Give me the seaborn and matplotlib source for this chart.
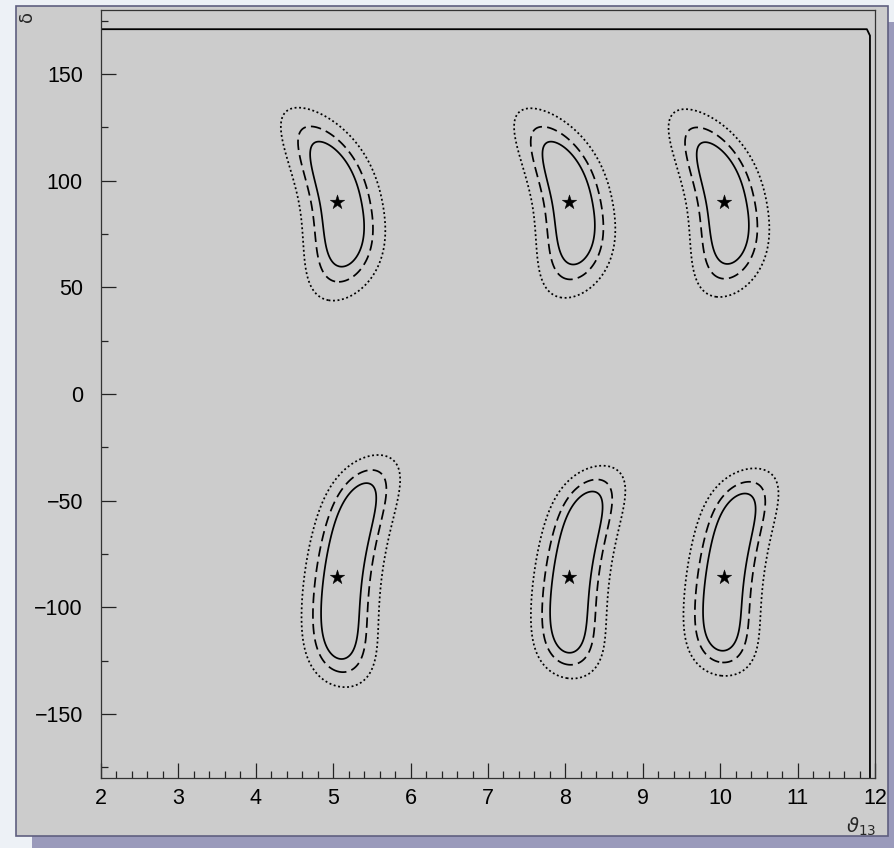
import numpy as np
import pandas as pd
import matplotlib
matplotlib.use("Agg")
import matplotlib.pyplot as plt
import seaborn as sns
from matplotlib.patches import Rectangle

# Simulated true points (theta13 in degrees, delta in degrees)
theta_best = [5.05, 8.05, 10.05, 5.05, 8.05, 10.05]
delta_best = [90, 90, 90, -86, -86, -86]

# Allowed-region shape around each true point
region_theta0 = [5.10, 8.09, 10.08, 5.137, 8.09, 10.07]
region_delta0 = [89.0, 89.5, 89.5, -83.0, -83.5, -83.5]
region_theta_width = [0.178, 0.172, 0.172, 0.165, 0.162, 0.165]
region_delta_width = [22.6, 22.2, 22.0, 34.9, 32.0, 31.2]
region_tilt = [-0.005, -0.005, -0.005, 0.0039, 0.0039, 0.0039]
region_bend = [-0.00016, -0.00016, -0.00016, 0.0000777, 0.0000777, 0.0000777]
region_power = [3.2, 3.2, 3.2, 5, 5, 5]

# Delta chi^2 levels: 68%, 90%, 99% C.L. (2 d.o.f.)
chi2_levels = [2.30, 4.61, 9.21]

# Outer edge of the scanned region
edge_delta = 171.0
edge_theta = 11.935

x_ticks = list(range(2, 13))
y_ticks = [-150, -100, -50, 0, 50, 100, 150]

W, H, DPI = 894, 848, 100

sns.set_theme(style="white")
plt.rcParams["font.family"] = ["Liberation Sans", "DejaVu Sans"]
plt.rcParams["mathtext.fontset"] = "dejavusans"

fig = plt.figure(figsize=(W / DPI, H / DPI), dpi=DPI)
fig.patch.set_facecolor("#edf1f6")

def px_rect(x0, y0, x1, y1, **kw):
    r = Rectangle((x0 / W, 1 - y1 / H), (x1 - x0) / W, (y1 - y0) / H,
                  transform=fig.transFigure, **kw)
    fig.patches.append(r)

# panel shadow and panel
px_rect(32, 22, 910, 870, facecolor="#9a9abb", edgecolor="none", zorder=0)
px_rect(16, 6, 888, 836, facecolor="#cccccc", edgecolor="#5f5f80", lw=1.2, zorder=1)

ax = fig.add_axes([101 / W, 1 - 778 / H, (875 - 101) / W, (778 - 10) / H])
ax.set_facecolor("#cccccc")
ax.set_zorder(2)

# delta chi^2 surface
tg = np.linspace(2, 12, 801)
dg = np.linspace(-180, 180, 901)
T, D = np.meshgrid(tg, dg)
chi2 = np.full(T.shape, np.inf)
for t0, d0, sx, sy, a, b, p in zip(region_theta0, region_delta0, region_theta_width,
                                   region_delta_width, region_tilt, region_bend, region_power):
    u = D - d0
    centre = t0 + a * u + b * u ** 2
    c = ((T - centre) / sx) ** 2 + np.abs(u / sy) ** p
    chi2 = np.minimum(chi2, c)

ax.contour(T, D, chi2, levels=chi2_levels, colors="black", linewidths=1.25,
           linestyles=["solid", (0, (6, 3)), (0, (1.1, 1.5))])

# boundary of the scanned region
ax.plot([2, edge_theta - 0.04, edge_theta, edge_theta],
        [edge_delta, edge_delta, edge_delta - 3, -180],
        color="black", lw=1.3, solid_joinstyle="round")

pts = pd.DataFrame({"theta13": theta_best, "delta": delta_best})
sns.scatterplot(data=pts, x="theta13", y="delta", marker="*", s=120,
                color="black", edgecolor="black", linewidth=0.3, ax=ax, zorder=5)

ax.set_xlim(2, 12)
ax.set_ylim(-180, 180)
ax.set_xticks(x_ticks)
ax.set_xticks(np.arange(2, 12.001, 0.2), minor=True)
ax.set_yticks(y_ticks)
ax.set_yticks(np.arange(-175, 176, 25), minor=True)
ax.set_xticklabels([str(v) for v in x_ticks])
ax.set_yticklabels([str(v).replace("-", "\u2212") for v in y_ticks])
ax.tick_params(axis="both", which="both", direction="in", colors="#222222",
               labelcolor="black", labelsize=15.5, width=0.9)
ax.tick_params(axis="both", which="major", length=10.5)
ax.tick_params(axis="both", which="minor", length=5)
ax.tick_params(axis="y", which="both", pad=13, left=True, right=False)
ax.tick_params(axis="x", which="both", pad=7, bottom=True, top=False)
for s in ax.spines.values():
    s.set_color("#333333")
    s.set_linewidth(0.9)
ax.set_xlabel("")
ax.set_ylabel("")

fig.text(27 / W, 1 - 16 / H, "δ", rotation=90, fontsize=13, ha="center", va="center",
         family="DejaVu Sans")
fig.text(876 / W, 1 - 827 / H, r"$\vartheta_{13}$", fontsize=14, ha="right", va="center")

fig.savefig("out.png", dpi=DPI, facecolor=fig.get_facecolor())
